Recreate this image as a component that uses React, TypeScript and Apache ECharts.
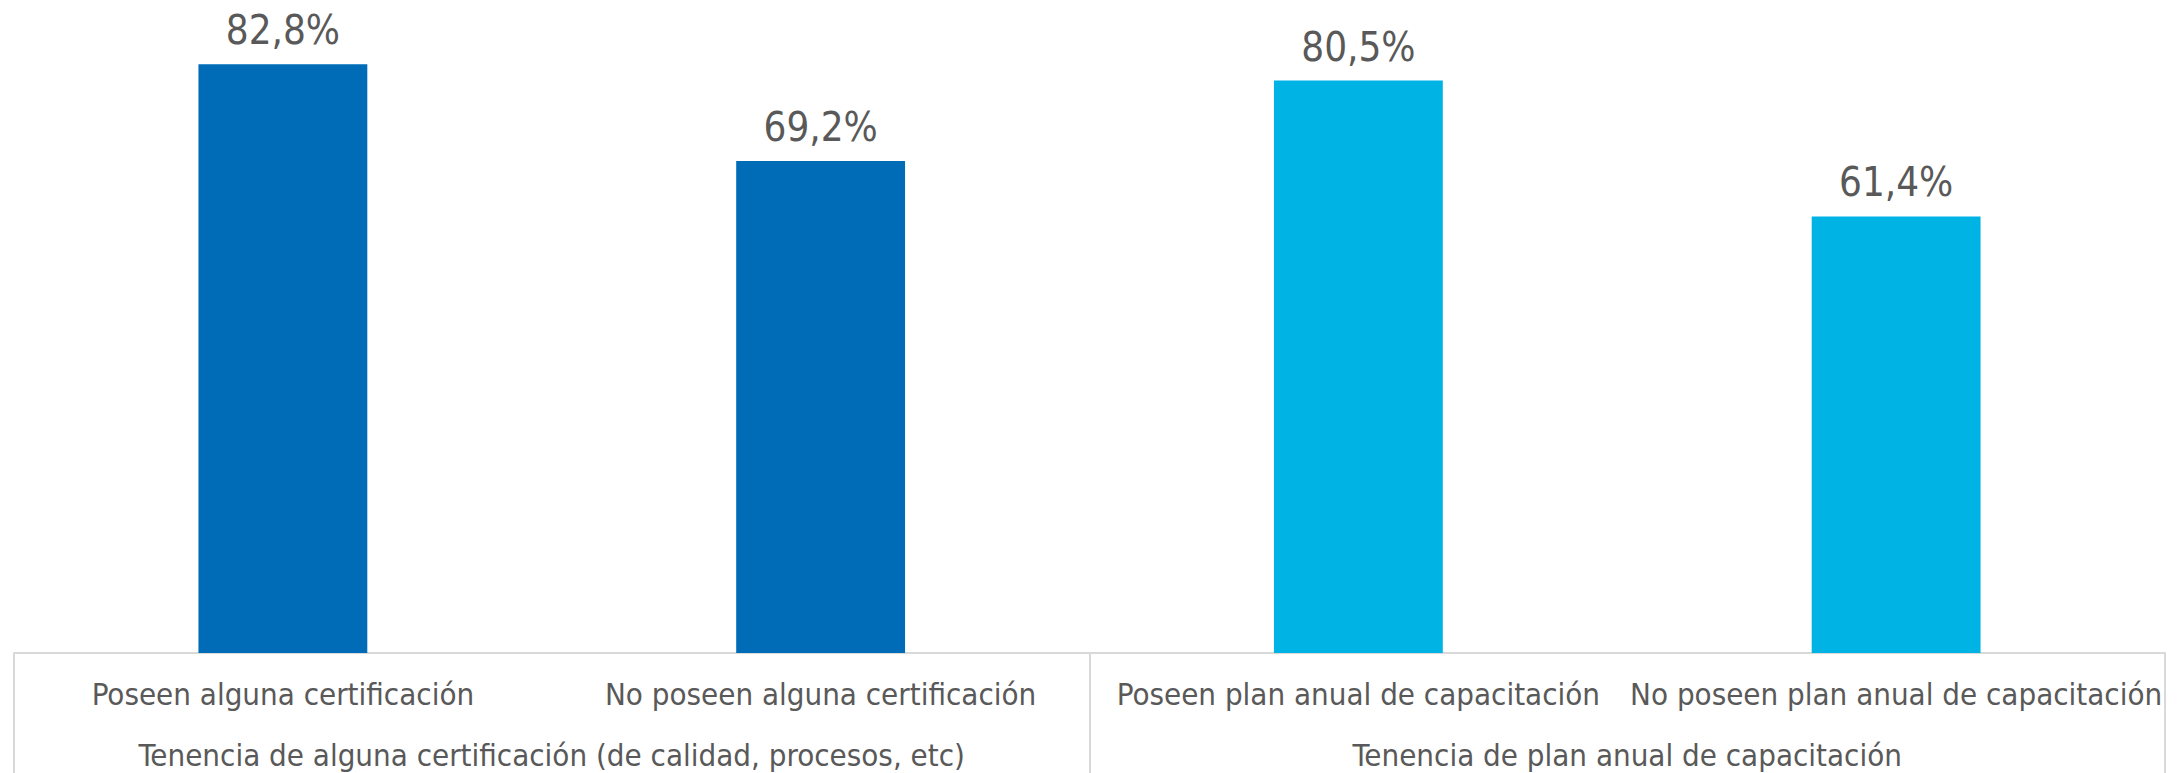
import React, { useEffect, useRef } from "react";
import * as echarts from "echarts";

const categories = [
  "Poseen alguna certificación",
  "No poseen alguna certificación",
  "Poseen plan anual de capacitación",
  "No poseen plan anual de capacitación",
];
const groups = [
  "Tenencia de alguna certificación (de calidad, procesos, etc)",
  "Tenencia de plan anual de capacitación",
];
const values = [82.8, 69.2, 80.5, 61.4];
const barColors = ["#006BB6", "#006BB6", "#00B3E5", "#00B3E5"];

const FONT = "'Liberation Sans Narrow', 'DejaVu Sans Condensed', 'Noto Sans', sans-serif";

export default function App() {
  const ref = useRef<HTMLDivElement>(null);
  useEffect(() => {
    const chart = echarts.init(ref.current!, null, { renderer: "svg" });
    chart.setOption({
      animation: false,
      grid: { left: 14, right: 12, top: 13, bottom: 120, containLabel: false },
      xAxis: [
        {
          type: "category",
          data: categories,
          position: "bottom",
          axisLine: { show: true, lineStyle: { color: "#D9D9D9", width: 2 } },
          axisTick: { show: false },
          axisLabel: {
            interval: 0,
            color: "#595959",
            fontSize: 31,
            fontFamily: FONT,
            lineHeight: 36,
            margin: 23,
          },
        },
        {
          type: "category",
          data: groups,
          position: "bottom",
          axisLine: { show: false },
          axisTick: { show: true, length: 120, lineStyle: { color: "#D9D9D9", width: 2 } },
          axisLabel: {
            interval: 0,
            color: "#595959",
            fontSize: 31,
            fontFamily: FONT,
            lineHeight: 36,
            margin: 84,
          },
        },
      ],
      yAxis: {
        type: "value",
        min: 0,
        max: 90,
        show: false,
        splitLine: { show: false },
      },
      series: [
        {
          type: "bar",
          xAxisIndex: 0,
          barWidth: "31.4%",
          data: values.map((v, i) => ({ value: v, itemStyle: { color: barColors[i] } })),
          label: {
            show: true,
            position: "top",
            distance: 14,
            color: "#595959",
            fontSize: 40,
            fontFamily: FONT,
            formatter: (p: any) => p.value.toFixed(1).replace(".", ",") + "%",
          },
        },
      ],
    });
    return () => chart.dispose();
  }, []);
  return (
    <div
      ref={ref}
      style={{ position: "fixed", left: 0, top: 0, width: 2177, height: 773, background: "#fff" }}
    />
  );
}
